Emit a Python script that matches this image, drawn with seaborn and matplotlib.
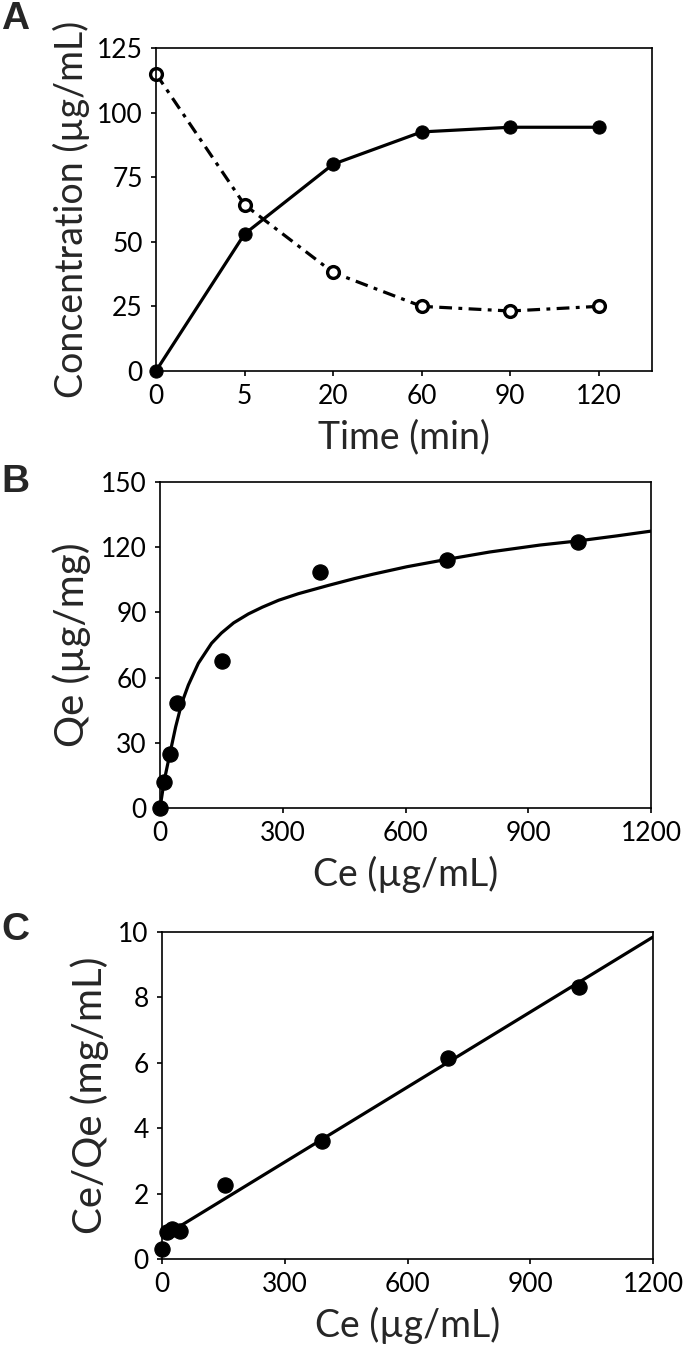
import numpy as np
import pandas as pd
import seaborn as sns
from matplotlib import pyplot as plt

# panel A - concentration over time
tiempo = ['0', '5', '20', '60', '90', '120']
conc_llena = [0, 53, 80, 92.5, 94.3, 94.3]
conc_vacia = [115, 64.3, 38.1, 25, 23.2, 25]

# panel B - isotherm points and fitted curve
ce_pts = [0, 10, 24.5, 42, 152, 391, 701, 1021]
qe_pts = [0, 12, 25, 48.5, 67.5, 108.5, 114, 122.3]
ce_curva = [0, 10.6, 24.4, 38.3, 53, 69.3, 93.7, 126, 150, 180, 216, 250, 290, 338,
            411, 476, 521, 603, 701, 806, 929, 1022, 1116, 1200]
qe_curva = [0, 12.9, 25.2, 37.4, 48.2, 56.6, 66.6, 75.8, 80.5, 85.2, 89.3, 92.4, 95.6,
            98.6, 102.4, 105.6, 107.6, 111, 114.4, 117.8, 121, 122.9, 125.2, 127.4]

# panel C - linearised
ce_lin_pts = [0, 11, 25, 44, 154, 390, 700, 1019]
ratio_pts = [0.3, 0.84, 0.93, 0.86, 2.25, 3.6, 6.15, 8.32]
ce_recta = [30, 1200]
ratio_recta = [0.9, 9.85]

sns.set_style('ticks')
plt.rcParams['font.family'] = ['Lato', 'DejaVu Sans']
plt.rcParams['axes.linewidth'] = 1.2
plt.rcParams['xtick.major.width'] = 1.2
plt.rcParams['ytick.major.width'] = 1.2
plt.rcParams['xtick.major.size'] = 3.5
plt.rcParams['ytick.major.size'] = 3.5
plt.rcParams['xtick.major.pad'] = 6
plt.rcParams['ytick.major.pad'] = 6
plt.rcParams['xtick.color'] = 'black'
plt.rcParams['ytick.color'] = 'black'
plt.rcParams['axes.edgecolor'] = 'black'
plt.rcParams['axes.labelpad'] = 7

fig = plt.figure(figsize=(6.85, 13.46), dpi=100)
axA = fig.add_axes([0.2277, 0.7244, 0.7241, 0.2400])
axB = fig.add_axes([0.2336, 0.3997, 0.7168, 0.2422])
axC = fig.add_axes([0.2365, 0.0646, 0.7168, 0.2429])

pos = np.arange(len(tiempo))
sns.lineplot(x=pos, y=conc_llena, ax=axA, color='black', linewidth=2.3, marker='o',
             markersize=9.5, markeredgecolor='black', clip_on=False)
sns.lineplot(x=pos, y=conc_vacia, ax=axA, color='black', linewidth=2.3, marker='o',
             markersize=8.5, markerfacecolor='white', markeredgecolor='black',
             markeredgewidth=2.4, dashes=False, linestyle=(0, (4, 2, 1.2, 2)), clip_on=False)
axA.set_xlim(0, 5.6)
axA.set_ylim(0, 125)
axA.set_xticks(pos)
axA.set_xticklabels(tiempo)
axA.set_yticks(range(0, 126, 25))
axA.set_xlabel('Time (min)', fontsize=27)
axA.set_ylabel('Concentration (µg/mL)', fontsize=27, labelpad=5)

sns.lineplot(x=ce_curva, y=qe_curva, ax=axB, color='black', linewidth=2.3, sort=False)
sns.scatterplot(x=ce_pts, y=qe_pts, ax=axB, color='black', s=120, edgecolor='black',
                zorder=3, clip_on=False)
axB.set_xlim(0, 1200)
axB.set_ylim(0, 150)
axB.set_xticks(range(0, 1201, 300))
axB.set_yticks(range(0, 151, 30))
axB.set_xlabel('Ce (µg/mL)', fontsize=27)
axB.set_ylabel('Qe (µg/mg)', fontsize=29)

sns.lineplot(x=ce_recta, y=ratio_recta, ax=axC, color='black', linewidth=2.3)
sns.scatterplot(x=ce_lin_pts, y=ratio_pts, ax=axC, color='black', s=120,
                edgecolor='black', zorder=3, clip_on=False)
axC.set_xlim(0, 1200)
axC.set_ylim(0, 10)
axC.set_xticks(range(0, 1201, 300))
axC.set_yticks(range(0, 11, 2))
axC.set_xlabel('Ce (µg/mL)', fontsize=27)
axC.set_ylabel('Ce/Qe (mg/mL)', fontsize=29)

for ax in [axA, axB, axC]:
    ax.tick_params(labelsize=19, direction='out')
    for lado in ['top', 'right']:
        ax.spines[lado].set_visible(True)

for letra, y in [('A', 0.999), ('B', 0.655), ('C', 0.3225)]:
    fig.text(0.002, y, letra, fontsize=28, fontweight='bold', va='top',
             family='Liberation Sans')

plt.savefig('out.png', dpi=100)
